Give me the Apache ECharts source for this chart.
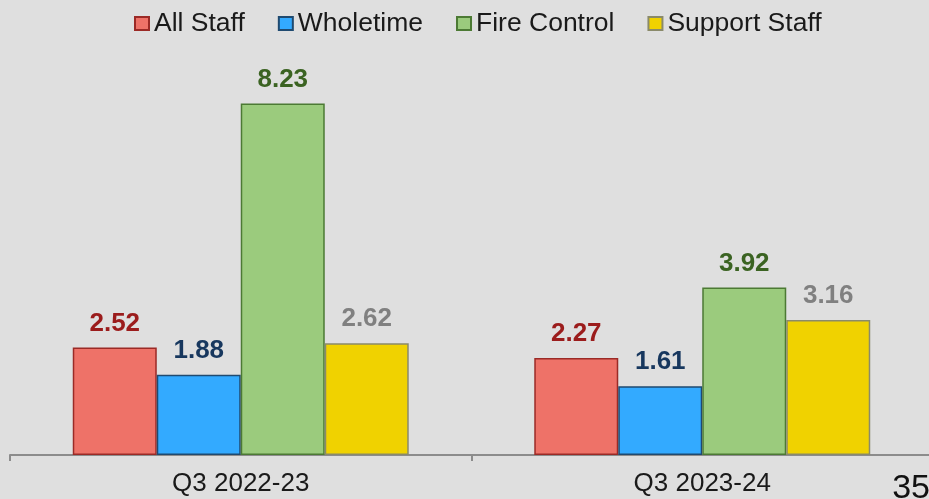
<!DOCTYPE html>
<html><head><meta charset="utf-8">
<script src="https://cdn.jsdelivr.net/npm/echarts@6/dist/echarts.min.js"></script>
<style>html,body{margin:0;padding:0;background:#dfdfdf;}#c{width:929px;height:499px;}</style>
</head><body><div id="c"></div>
<script>
var categories = ['Q3 2022-23', 'Q3 2023-24'];
var allStaff = [2.52, 2.27];
var wholetime = [1.88, 1.61];
var fireControl = [8.23, 3.92];
var supportStaff = [2.62, 3.16];
var seriesNames = ['All Staff', 'Wholetime', 'Fire Control', 'Support Staff'];
var pageNumber = '35';

var fills = ['#ee7268', '#33aaff', '#9bcb7d', '#f0d200'];
var borders = ['#9b2a26', '#1f4a70', '#4c7a34', '#8a8a6a'];
var labelColors = ['#9b1c1c', '#17375e', '#3b6322', '#808080'];
var values = [allStaff, wholetime, fireControl, supportStaff];

var chart = echarts.init(document.getElementById('c'), null, {renderer: 'canvas'});
chart.setOption({
  backgroundColor: '#dfdfdf',
  animation: false,
  textStyle: {fontFamily: 'Liberation Sans, Arial, sans-serif'},
  legend: {
    top: 5, left: 129, icon: 'rect', itemWidth: 14, itemHeight: 13, itemGap: 33,
    textStyle: {fontSize: 26.5, color: '#1a1a1a'},
    data: seriesNames
  },
  grid: {left: 10, width: 923, top: 28, bottom: 44, containLabel: false, outerBoundsMode: 'none'},
  xAxis: {
    type: 'category', data: categories,
    axisLine: {lineStyle: {color: '#8c8c8c', width: 2}},
    axisTick: {show: true, length: 6, lineStyle: {color: '#8c8c8c', width: 2}},
    axisLabel: {fontSize: 26, color: '#1a1a1a', margin: 16}
  },
  yAxis: {type: 'value', min: 0, max: 10, show: false, splitLine: {show: false}},
  series: seriesNames.map(function (n, i) {
    return {
      name: n, type: 'bar', data: values[i],
      barWidth: '18.2%', barGap: '0%',
      itemStyle: {color: fills[i], borderColor: borders[i], borderWidth: 1.5},
      label: {show: true, position: 'top', distance: 11, fontSize: 26, fontWeight: 'bold',
        color: labelColors[i], formatter: function (p) { return p.value.toFixed(2); }}
    };
  }),
  graphic: [{type: 'text', right: -1, bottom: -7, style: {text: pageNumber, fontSize: 34, fill: '#111', fontFamily: 'Liberation Sans, Arial, sans-serif'}}]
});
</script></body></html>
